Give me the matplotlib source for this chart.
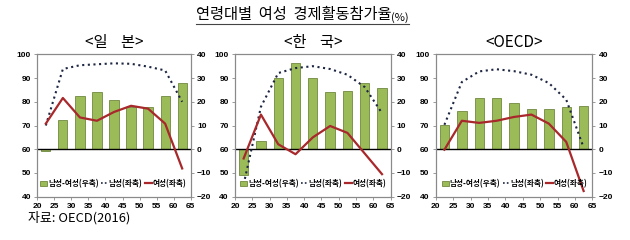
import matplotlib
matplotlib.use('Agg')
import matplotlib.pyplot as plt
from matplotlib.lines import Line2D
from matplotlib.patches import Patch

# ── DATA
ages = [22.5, 27.5, 32.5, 37.5, 42.5, 47.5, 52.5, 57.5, 62.5]
x_ticks = [20, 25, 30, 35, 40, 45, 50, 55, 60, 65]
left_ticks = [40, 50, 60, 70, 80, 90, 100]
right_ticks = [-20, -10, 0, 10, 20, 30, 40]

jp_female = [70.8, 81.6, 73.4, 72.0, 75.7, 78.3, 77.1, 70.8, 51.9]
jp_male = [70.0, 93.8, 95.4, 95.8, 96.2, 96.0, 94.8, 93.2, 80.0]
jp_gap = [-0.8, 12.3, 22.3, 24.0, 20.7, 18.0, 17.8, 22.5, 28.0]

kr_female = [56.1, 74.6, 62.1, 57.9, 65.0, 69.8, 66.9, 58.2, 49.5]
kr_male = [45.2, 77.9, 92.1, 94.2, 95.0, 93.8, 91.4, 86.2, 75.2]
kr_gap = [-10.9, 3.3, 30.0, 36.3, 30.0, 24.0, 24.5, 28.0, 25.7]

oe_female = [59.8, 72.0, 71.1, 72.0, 73.6, 74.6, 70.8, 63.1, 42.4]
oe_male = [70.3, 88.3, 92.8, 93.7, 92.9, 91.4, 87.9, 80.9, 60.7]
oe_gap = [10.3, 16.3, 21.7, 21.7, 19.3, 16.8, 17.1, 17.8, 18.3]

titles = ['<일    본>', '<한    국>', '<OECD>']
legend_labels = ['남성-여성(우축)', '남성(좌축)', '여성(좌축)']

KR = ['Noto Sans CJK KR', 'DejaVu Sans']
NUM = ['Liberation Sans', 'DejaVu Sans']

BAR_FACE = '#9bbb59'
BAR_EDGE = '#71893f'
RED = '#a8282b'
DOT = '#1c2541'
GRAY = '#8a8a8a'

fig = plt.figure(figsize=(6.3, 2.4), dpi=100)
fig.patch.set_facecolor('white')

positions = [
    [0.0592, 0.1804, 0.2435, 0.5933],
    [0.3730, 0.1804, 0.2471, 0.5933],
    [0.6916, 0.1804, 0.2486, 0.5933],
]
panels = [
    (jp_female, jp_male, jp_gap),
    (kr_female, kr_male, kr_gap),
    (oe_female, oe_male, oe_gap),
]

for pos, (female, male, gap), title in zip(positions, panels, titles):
    ax = fig.add_axes(pos)
    ax2 = ax.twinx()
    # bars (right axis) behind lines (left axis)
    ax.set_zorder(ax2.get_zorder() + 1)
    ax.patch.set_visible(False)

    ax2.bar(ages, gap, width=2.7, color=BAR_FACE, edgecolor=BAR_EDGE, linewidth=0.6)
    ax2.axhline(0, color='black', lw=1.0)

    ax.plot(ages, male, color=DOT, lw=1.5, linestyle=(0, (1, 1.7)))
    ax.plot(ages, female, color=RED, lw=1.6)

    ax.set_xlim(20, 65)
    ax.set_ylim(40, 100)
    ax2.set_ylim(-20, 40)
    ax.set_xticks(x_ticks)
    ax.set_yticks(left_ticks)
    ax2.set_yticks(right_ticks)

    for a in (ax, ax2):
        for s in a.spines.values():
            s.set_color(GRAY)
            s.set_linewidth(0.8)
        a.tick_params(length=2.5, width=0.6, color=GRAY, pad=2, labelsize=6)
        for lab in a.get_xticklabels() + a.get_yticklabels():
            lab.set_fontfamily(NUM)
            lab.set_fontweight('bold')

    ax.set_title(title, family=KR, fontsize=11, pad=5)

    handles = [
        Patch(facecolor=BAR_FACE, edgecolor=BAR_EDGE, linewidth=0.6),
        Line2D([], [], color=DOT, lw=1.2, linestyle=(0, (1, 1.3))),
        Line2D([], [], color=RED, lw=1.6),
    ]
    ax.legend(handles, legend_labels, loc='lower right', bbox_to_anchor=(1.0, 0.03),
              ncol=3, frameon=False, handlelength=0.9, handleheight=0.6,
              handletextpad=0.1, columnspacing=0.3, borderpad=0.1,
              prop={'family': KR, 'size': 5.5, 'weight': 'bold'})

# main title, underlined, with smaller (%)
title = fig.text(196 / 630, 1 - 15 / 240, '연령대별  여성  경제활동참가율',
                 family=KR, fontsize=11, ha='left', va='center')
pct = fig.text(0, 0, '(%)', family=KR, fontsize=8, ha='left', va='baseline')
fig.canvas.draw()
r = fig.canvas.get_renderer()
bb = title.get_window_extent(r)
pct.set_position((bb.x1 / 630, (bb.y0 + 2.5) / 240))
fig.canvas.draw()
bb2 = pct.get_window_extent(r)
uy = 1 - 23.5 / 240
fig.add_artist(Line2D([bb.x0 / 630, bb2.x1 / 630], [uy, uy], color='#444444', lw=0.8))

fig.text(28 / 630, 1 - 218 / 240, '자료: OECD(2016)', family=KR, fontsize=9.3,
         ha='left', va='center')

fig.savefig('out.png', dpi=100)
